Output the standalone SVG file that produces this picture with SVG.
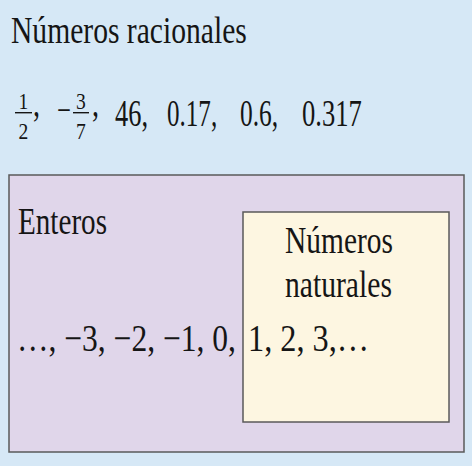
<svg xmlns="http://www.w3.org/2000/svg" width="472" height="466" viewBox="0 0 472 466">
  <style>
    text { font-family: "Liberation Serif", "Times New Roman", serif; fill: #151515; }
    .big { font-size: 38px; }
    .frac { font-size: 23px; }
    .bar { stroke: #151515; stroke-width: 1.4; }
    .box { stroke: #5a5a5a; stroke-width: 1.5; }
  </style>
  <rect x="0" y="0" width="472" height="466" fill="#d6e8f6"/>
  <g id="racionales">
    <text class="big" transform="translate(11,43) scale(0.779,1)">Números racionales</text>
    <text class="frac" transform="translate(23.5,109) scale(0.85,1)" text-anchor="middle">1</text>
    <line class="bar" x1="15" y1="112.7" x2="32" y2="112.7"/>
    <text class="frac" transform="translate(23.5,139) scale(0.85,1)" text-anchor="middle">2</text>
    <text class="big" transform="translate(33,116) scale(0.74,1)">,</text>
    <text class="big" transform="translate(57,122.5) scale(0.65,1)">−</text>
    <text class="frac" transform="translate(81,109) scale(0.85,1)" text-anchor="middle">3</text>
    <line class="bar" x1="73" y1="112.7" x2="89" y2="112.7"/>
    <text class="frac" transform="translate(81,139) scale(0.85,1)" text-anchor="middle">7</text>
    <text class="big" transform="translate(92,116) scale(0.74,1)">,</text>
    <text class="big" transform="translate(115,126) scale(0.695,1)">46,</text>
    <text class="big" transform="translate(167,126) scale(0.66,1)">0.17,</text>
    <text class="big" transform="translate(240,126) scale(0.67,1)">0.6,</text>
    <text class="big" transform="translate(302,126) scale(0.70,1)">0.317</text>
  </g>
  <g id="enteros">
    <rect class="box" x="9" y="175" width="455" height="277" fill="#e0d6ea"/>
    <text class="big" transform="translate(18,234) scale(0.767,1)">Enteros</text>
  </g>
  <g id="naturales">
    <rect class="box" x="243" y="212" width="206" height="210" fill="#fdf6e1"/>
    <text class="big" transform="translate(285,253) scale(0.775,1)">Números</text>
    <text class="big" transform="translate(285,297) scale(0.78,1)">naturales</text>
  </g>
  <g id="lista">
    <text class="big" transform="translate(17,351) scale(0.83,1)">…, −3, −2, −1, 0,</text>
    <text class="big" transform="translate(248,351) scale(0.85,1)">1, 2, 3,…</text>
  </g>
</svg>
